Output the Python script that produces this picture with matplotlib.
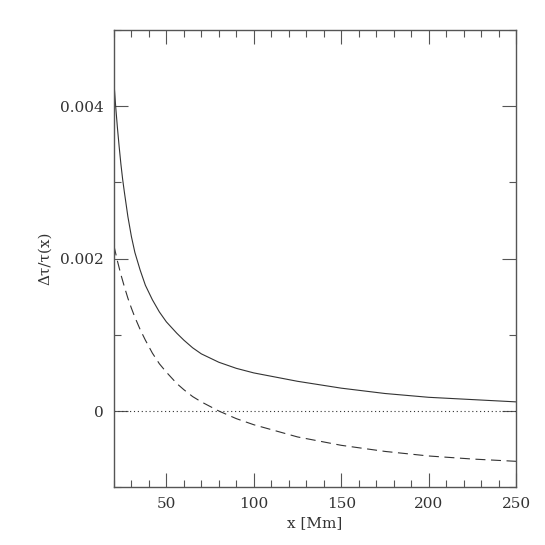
import numpy as np
import matplotlib
matplotlib.use("Agg")
import matplotlib.pyplot as plt
from matplotlib.ticker import MultipleLocator, FuncFormatter

# values (y in units of 1e-3)
x = [20, 21, 22, 23, 24, 25, 26, 28, 30, 32, 35, 38, 42, 46, 50, 56, 60, 65,
     70, 80, 90, 100, 125, 150, 175, 200, 225, 250]
solid = [4.32, 4.00, 3.72, 3.47, 3.24, 3.04, 2.87, 2.55, 2.29, 2.08, 1.85,
         1.65, 1.46, 1.30, 1.17, 1.02, 0.93, 0.83, 0.75, 0.64, 0.56, 0.50,
         0.39, 0.30, 0.23, 0.18, 0.15, 0.12]
dashed = [2.17, 2.07, 1.97, 1.88, 1.79, 1.71, 1.63, 1.48, 1.35, 1.23, 1.07,
          0.93, 0.76, 0.62, 0.51, 0.36, 0.28, 0.19, 0.12, 0.0, -0.10, -0.18,
          -0.34, -0.45, -0.53, -0.59, -0.63, -0.66]

plt.rcParams['font.family'] = ['DejaVu Serif']

fig = plt.figure(figsize=(5.45, 5.45), dpi=100)
ax = fig.add_axes([0.209, 0.106, 0.738, 0.839])

xs = np.array(x)
ax.plot(xs, np.array(solid) * 1e-3, color='#333333', lw=0.8)
ax.plot(xs, np.array(dashed) * 1e-3, color='#333333', lw=0.8, dashes=(9, 5))
ax.plot([20, 250], [0, 0], color='#333333', lw=0.8, dashes=(1, 2.5))

ax.set_xlim(20, 250)
ax.set_ylim(-0.001, 0.005)
ax.xaxis.set_major_locator(MultipleLocator(50))
ax.xaxis.set_minor_locator(MultipleLocator(10))
ax.yaxis.set_major_locator(MultipleLocator(0.002))
ax.yaxis.set_minor_locator(MultipleLocator(0.001))
ax.yaxis.set_major_formatter(FuncFormatter(lambda v, p: '0' if abs(v) < 1e-9 else '%.3f' % v))

ax.tick_params(which='both', direction='in', top=True, right=True,
               color='#555555', labelsize=11, labelcolor='#333333')
ax.tick_params(which='major', length=10, width=0.8, pad=7)
ax.tick_params(which='minor', length=5, width=0.8)
for s in ax.spines.values():
    s.set_color('#555555')
    s.set_linewidth(1.0)

ax.set_xlabel('x [Mm]', fontsize=11, color='#333333', labelpad=4)
ax.set_ylabel('Δτ/τ(x)', fontsize=11, color='#333333', labelpad=6)

fig.savefig('out.png', dpi=100)
